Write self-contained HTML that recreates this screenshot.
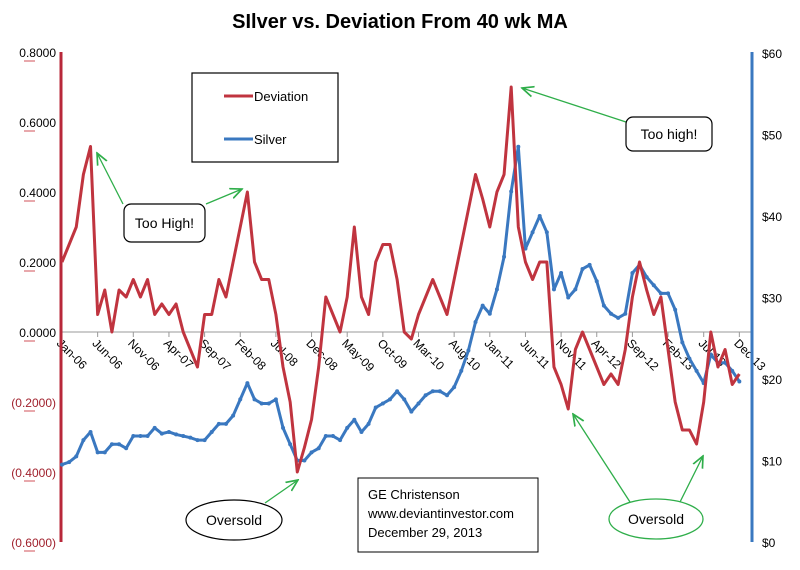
<!DOCTYPE html>
<html><head><meta charset="utf-8"><style>
html,body{margin:0;padding:0;background:#fff;}
svg{display:block;font-family:"Liberation Sans",sans-serif;}
</style></head><body>
<svg id="chart" width="800" height="570" viewBox="0 0 800 570">
<text x="400" y="28" text-anchor="middle" font-size="20" font-weight="bold">SIlver vs. Deviation From 40 wk MA</text>
<g id="axes"></g>
<g id="series"></g>
<g>
<rect x="192" y="73" width="146" height="89" fill="#fff" stroke="#000" stroke-width="1.2"/>
<line x1="224" y1="96" x2="253" y2="96" stroke="#c0343f" stroke-width="3"/>
<text x="254" y="101" font-size="13">Deviation</text>
<line x1="224" y1="139" x2="253" y2="139" stroke="#3a78c0" stroke-width="3"/>
<text x="254" y="144" font-size="13">Silver</text>
</g>
<defs><marker id="ah" markerWidth="10" markerHeight="10" refX="9" refY="5" orient="auto"><path d="M0,1 L9,5 L0,9" fill="none" stroke="#2fae4a" stroke-width="1.3"/></marker></defs>
<g>
<line x1="123" y1="204" x2="97" y2="153" stroke="#2fae4a" stroke-width="1.3" marker-end="url(#ah)"/>
<line x1="206" y1="204" x2="242" y2="189" stroke="#2fae4a" stroke-width="1.3" marker-end="url(#ah)"/>
<rect x="124" y="204" width="81" height="38" rx="7" fill="#fff" stroke="#000" stroke-width="1.2"/>
<text x="164.5" y="228" text-anchor="middle" font-size="14">Too High!</text>
<line x1="626" y1="122" x2="522" y2="88" stroke="#2fae4a" stroke-width="1.3" marker-end="url(#ah)"/>
<rect x="626" y="117" width="86" height="34" rx="7" fill="#fff" stroke="#000" stroke-width="1.2"/>
<text x="669" y="139" text-anchor="middle" font-size="14">Too high!</text>
<line x1="265" y1="503" x2="298" y2="480" stroke="#2fae4a" stroke-width="1.3" marker-end="url(#ah)"/>
<ellipse cx="234" cy="520" rx="48" ry="20" fill="#fff" stroke="#000" stroke-width="1.2"/>
<text x="234" y="525" text-anchor="middle" font-size="14">Oversold</text>
<line x1="630" y1="502" x2="573" y2="414" stroke="#2fae4a" stroke-width="1.3" marker-end="url(#ah)"/>
<line x1="680" y1="502" x2="703" y2="456" stroke="#2fae4a" stroke-width="1.3" marker-end="url(#ah)"/>
<ellipse cx="656" cy="519" rx="47" ry="20" fill="#fff" stroke="#2fae4a" stroke-width="1.3"/>
<text x="656" y="524" text-anchor="middle" font-size="14">Oversold</text>
<rect x="358" y="478" width="180" height="74" fill="#fff" stroke="#000" stroke-width="1"/>
<text x="368" y="499" font-size="13">GE Christenson</text>
<text x="368" y="518" font-size="13">www.deviantinvestor.com</text>
<text x="368" y="537" font-size="13">December 29, 2013</text>
</g>
</svg>
<script>
const monthLabels = ["Jan-06","Jun-06","Nov-06","Apr-07","Sep-07","Feb-08","Jul-08","Dec-08","May-09","Oct-09","Mar-10","Aug-10","Jan-11","Jun-11","Nov-11","Apr-12","Sep-12","Feb-13","Jul-13","Dec-13"];
const leftTicks = [0.8,0.6,0.4,0.2,0,-0.2,-0.4,-0.6];
const leftTickLabels = ["0.8000","0.6000","0.4000","0.2000","0.0000","(0.2000)","(0.4000)","(0.6000)"];
const rightTicks = [60,50,40,30,20,10,0];
const rightTickLabels = ["$60","$50","$40","$30","$20","$10","$0"];
const deviation = [0.2,0.25,0.3,0.45,0.53,0.05,0.12,0.0,0.12,0.1,0.15,0.1,
0.15,0.05,0.08,0.05,0.08,0.0,-0.05,-0.1,0.05,0.05,0.15,0.1,
0.2,0.3,0.4,0.2,0.15,0.15,0.05,-0.1,-0.2,-0.4,-0.33,-0.25,
-0.1,0.1,0.05,0.0,0.1,0.3,0.1,0.05,0.2,0.25,0.25,0.15,
0.0,-0.02,0.05,0.1,0.15,0.1,0.05,0.15,0.25,0.35,0.45,0.38,
0.3,0.4,0.45,0.7,0.3,0.2,0.15,0.2,0.2,-0.1,-0.15,-0.22,
-0.05,0.0,-0.05,-0.1,-0.15,-0.12,-0.15,-0.05,0.1,0.2,0.12,0.05,
0.1,-0.05,-0.2,-0.28,-0.28,-0.32,-0.2,0.0,-0.1,-0.05,-0.15,-0.12];
const silver = [9.5,9.8,10.5,12.5,13.5,11,11,12,12,11.5,13,13,
13,14,13.3,13.5,13.2,13,12.8,12.5,12.5,13.5,14.5,14.5,
15.5,17.5,19.5,17.5,17,17,17.5,14,12,10,10,11,
11.5,13,13,12.5,14,15,13.5,14.5,16.5,17,17.5,18.5,
17.5,16,17,18,18.5,18.5,18,19,21,23.5,27,29,
28,31,35,43,48.5,36,38,40,38,31,33,30,
31,33.5,34,32,29,28,27.5,28,33,34,32.5,31.5,
30.5,30.5,28.5,24.5,22.5,21,19.5,23,22,22,21,19.7];
const NS="http://www.w3.org/2000/svg";
const X0=62, XS=7.13, Y0=332, YS=350, RY0=542, RYS=8.15;
function xm(m){return X0+m*XS;}
function yl(v){return Y0-v*YS;}
function yr(v){return RY0-v*RYS;}
function mk(tag,attrs,parent){const e=document.createElementNS(NS,tag);for(const k in attrs)e.setAttribute(k,attrs[k]);parent.appendChild(e);return e;}
const axes=document.getElementById('axes'), series=document.getElementById('series');
let zl=mk('line',{x1:62,y1:Y0,x2:752,y2:Y0,stroke:'#999','stroke-width':1},axes);


monthLabels.forEach((lab,i)=>{
  const x=xm(i*5);
  const t=mk('line',{x1:x,y1:Y0,x2:x,y2:Y0+5,stroke:'#999'},axes);
  
  
  const tx=mk('text',{x:x-6,y:Y0+12,'font-size':12,transform:`rotate(45 ${x-6} ${Y0+12})`},axes);
  tx.textContent=lab;
  
  
});
leftTicks.forEach((v,i)=>{
  const t=mk('text',{x:56,y:yl(v)+5,'text-anchor':'end','font-size':12,fill:v<0?'#a0202c':'#000'},axes);
  t.textContent=leftTickLabels[i];
  
  
  const u=mk('line',{x1:24,y1:yl(v)+9,x2:35,y2:yl(v)+9,stroke:'#e08a90','stroke-width':1.5},axes);
  
  
});
rightTicks.forEach((v,i)=>{
  const t=mk('text',{x:762,y:yr(v)+5,'font-size':12},axes);
  t.textContent=rightTickLabels[i];
  
  
});
let la=mk('line',{x1:61,y1:52,x2:61,y2:542,stroke:'#b8283a','stroke-width':3},axes);


let ra=mk('line',{x1:752,y1:52,x2:752,y2:542,stroke:'#3a78c0','stroke-width':3},axes);


const sp=silver.map((v,i)=>xm(i)+','+yr(v)).join(' ');
const sl=mk('polyline',{points:sp,fill:'none',stroke:'#3a78c0','stroke-width':3,'stroke-linejoin':'round'},series);


silver.forEach((v,i)=>{
  const c=mk('circle',{cx:xm(i),cy:yr(v),r:2,fill:'#3a78c0'},series);
  
  
});
const dp=deviation.map((v,i)=>xm(i)+','+yl(v)).join(' ');
const dl=mk('polyline',{points:dp,fill:'none',stroke:'#c0343f','stroke-width':3,'stroke-linejoin':'round'},series);


</script>
</body></html>
